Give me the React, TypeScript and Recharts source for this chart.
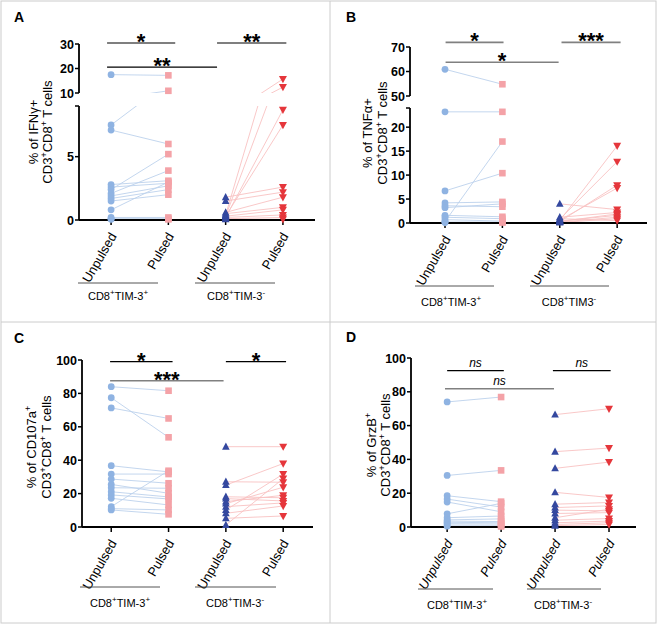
import React from "react";
import { ComposedChart, Line, Scatter, XAxis, YAxis, ReferenceLine } from "recharts";

const W = 658;
const H = 626;
const FONT = '"Liberation Sans", Arial, Helvetica, sans-serif';
const AXIS_W = 40;
const AXIS_H = 60;

const CATEGORIES = ["Unpulsed", "Pulsed", "Unpulsed", "Pulsed"];

// A: IFNγ
const ifnPosUnpulsed = [17.5, 7.5, 7.1, 2.8, 2.6, 2.4, 2.1, 1.9, 1.7, 1.5, 0.8, 0.2, 0.1, 0.05];
const ifnPosPulsed = [17.2, 10.9, 6.0, 3.1, 2.9, 5.2, 3.9, 2.7, 2.4, 2.0, 3.0, 0.2, 0.1, 0.05];
const ifnNegUnpulsed = [0.4, 0.3, 0.2, 0.3, 1.8, 1.5, 0.6, 0.5, 0.3, 0.2, 0.1, 0.05];
const ifnNegPulsed = [15.7, 12.4, 8.7, 7.5, 2.6, 2.2, 1.8, 1.0, 0.8, 0.4, 0.2, 0.05];
const ifnUpperTicks = [10, 20, 30];
const ifnLowerTicks = [0, 5];

// B: TNFα
const tnfPosUnpulsed = [60.9, 23.2, 6.7, 4.2, 3.6, 3.2, 1.6, 1.2, 0.7, 0.3, 0.2, 0.1];
const tnfPosPulsed = [54.8, 23.2, 10.4, 4.4, 3.4, 4.0, 1.3, 0.9, 0.4, 17.0, 0.2, 0.1];
const tnfNegUnpulsed = [0.5, 0.8, 0.3, 0.6, 4.0, 1.2, 0.4, 0.2, 0.1, 0.9, 0.3];
const tnfNegPulsed = [16.1, 12.8, 7.9, 7.3, 2.8, 2.2, 1.6, 1.2, 0.9, 0.5, 1.9];
const tnfUpperTicks = [50, 60, 70];
const tnfLowerTicks = [0, 5, 10, 15, 20];

// C: CD107a
const cdPosUnpulsed = [84.0, 77.4, 71.3, 36.7, 31.7, 28.7, 25.5, 23.5, 21.1, 19.2, 17.2, 12.2, 11.0, 10.2];
const cdPosPulsed = [81.6, 53.7, 65.0, 33.0, 31.7, 26.2, 20.2, 23.2, 18.0, 16.8, 13.2, 33.7, 10.2, 7.6];
const cdNegUnpulsed = [48.1, 27.1, 25.1, 18.1, 17.0, 15.2, 14.0, 12.2, 10.2, 8.2, 5.2, 1.2];
const cdNegPulsed = [48.1, 26.8, 38.0, 17.5, 15.6, 19.0, 23.8, 14.4, 31.7, 12.6, 6.6, 29.0];

// D: GrzB
const grzPosUnpulsed = [74.0, 30.5, 18.5, 16.5, 14.8, 7.8, 5.5, 4.2, 3.5, 2.8, 2.0, 1.2, 0.5];
const grzPosPulsed = [76.9, 33.5, 15.0, 11.8, 9.0, 14.0, 6.5, 4.8, 3.2, 2.5, 1.8, 1.0, 0.3];
const grzNegUnpulsed = [66.5, 44.6, 34.7, 20.5, 13.5, 11.5, 10.0, 8.0, 5.5, 4.0, 2.5, 1.5, 0.8];
const grzNegPulsed = [70.0, 46.7, 38.4, 17.5, 14.5, 12.5, 9.5, 8.5, 10.5, 5.0, 3.5, 2.5, 1.5];

const percentTicks = [0, 20, 40, 60, 80, 100];

const BLUE_LINE = "#bcd1ec";
const PINK_LINE = "#f8c2c2";
const BLUE_DOT = "#8fb3e2";
const PINK_SQ = "#f4a2a7";
const NAVY_TRI = "#34489f";
const RED_TRI = "#e5363b";
const BLACK = "#000";
const GRAY = "#808080";

type Part = { t: string; sup?: boolean };
type Seg = { top: number; bottom: number; domain: [number, number]; ticks: number[]; cap?: boolean };
type Sig = { from: number; to: number; y: number; text: string; color: string };

const CD3CD8: Part[] = [{ t: "CD3" }, { t: "+", sup: true }, { t: "CD8" }, { t: "+", sup: true }, { t: " T cells" }];
const TIMPOS: Part[] = [{ t: "CD8" }, { t: "+", sup: true }, { t: "TIM-3" }, { t: "+", sup: true }];
const TIMNEG: Part[] = [{ t: "CD8" }, { t: "+", sup: true }, { t: "TIM-3" }, { t: "-", sup: true }];
const TIMNEG_B: Part[] = [{ t: "CD8" }, { t: "+", sup: true }, { t: "TIM3" }, { t: "-", sup: true }];

const panels = [
  {
    letter: "A", lx: 14, ly: 22,
    left: 79, right: 315, xDomain: [0.44, 4.56],
    segments: [
      { top: 44, bottom: 93, domain: [10, 30], ticks: ifnUpperTicks },
      { top: 106, bottom: 220, domain: [0, 9], ticks: ifnLowerTicks, cap: true },
    ] as Seg[],
    pos: [ifnPosUnpulsed, ifnPosPulsed], neg: [ifnNegUnpulsed, ifnNegPulsed],
    sigs: [
      { from: 0.93, to: 2.12, y: 30.4, text: "*", color: BLACK },
      { from: 2.85, to: 4.06, y: 30.4, text: "**", color: BLACK },
      { from: 0.93, to: 2.85, y: 20.6, text: "**", color: BLACK },
    ] as Sig[],
    title: { x1: 38, x2: 52, cy: 132, line1: [{ t: "% of IFNγ+" }] as Part[] },
    under: { y: 283, spans: [[78, 158], [195, 275]], labelY: 300, centers: [118, 236], labels: [TIMPOS, TIMNEG] },
    italic: false,
  },
  {
    letter: "B", lx: 346, ly: 22,
    left: 410, right: 647, xDomain: [0.39, 4.52],
    segments: [
      { top: 47, bottom: 96, domain: [50, 70], ticks: tnfUpperTicks },
      { top: 108, bottom: 223, domain: [0, 24], ticks: tnfLowerTicks, cap: true },
    ] as Seg[],
    pos: [tnfPosUnpulsed, tnfPosPulsed], neg: [tnfNegUnpulsed, tnfNegPulsed],
    sigs: [
      { from: 1.01, to: 2.02, y: 71.9, text: "*", color: GRAY },
      { from: 3.03, to: 4.06, y: 71.9, text: "***", color: GRAY },
      { from: 1.01, to: 2.98, y: 63.8, text: "*", color: GRAY },
    ] as Sig[],
    title: { x1: 372, x2: 387, cy: 133, line1: [{ t: "% of TNFα+" }] as Part[] },
    under: { y: 286, spans: [[415, 494], [530, 609]], labelY: 306, centers: [451, 569], labels: [TIMPOS, TIMNEG_B] },
    italic: false,
  },
  {
    letter: "C", lx: 14, ly: 343,
    left: 82, right: 313, xDomain: [0.49, 4.52],
    segments: [{ top: 360, bottom: 527, domain: [0, 100], ticks: percentTicks }] as Seg[],
    pos: [cdPosUnpulsed, cdPosPulsed], neg: [cdNegUnpulsed, cdNegPulsed],
    sigs: [
      { from: 0.98, to: 2.07, y: 99, text: "*", color: BLACK },
      { from: 3.0, to: 4.05, y: 99, text: "*", color: BLACK },
      { from: 0.98, to: 2.96, y: 87.6, text: "***", color: GRAY },
    ] as Sig[],
    title: { x1: 36, x2: 51, cy: 447, line1: [{ t: "% of CD107a" }, { t: "+", sup: true }] as Part[] },
    under: { y: 587, spans: [[80, 160], [195, 276]], labelY: 607, centers: [120, 235], labels: [TIMPOS, TIMNEG] },
    italic: false,
  },
  {
    letter: "D", lx: 346, ly: 342,
    left: 411, right: 636, xDomain: [0.33, 4.5],
    segments: [{ top: 358, bottom: 527, domain: [0, 100], ticks: percentTicks }] as Seg[],
    pos: [grzPosUnpulsed, grzPosPulsed], neg: [grzNegUnpulsed, grzNegPulsed],
    sigs: [
      { from: 1.0, to: 2.05, y: 92.5, text: "ns", color: BLACK },
      { from: 2.96, to: 4.03, y: 92.5, text: "ns", color: BLACK },
      { from: 0.96, to: 2.98, y: 81.8, text: "ns", color: GRAY },
    ] as Sig[],
    title: { x1: 376, x2: 390, cy: 445, line1: [{ t: "% of GrzB" }, { t: "+", sup: true }] as Part[] },
    under: { y: 589, spans: [[418, 493], [527, 601]], labelY: 609, centers: [457, 563], labels: [TIMPOS, TIMNEG] },
    italic: true,
  },
];

function rich(parts: Part[], supSize: number) {
  const out: React.ReactNode[] = [];
  let shifted = false;
  parts.forEach((p, i) => {
    if (p.sup) {
      out.push(<tspan key={i} dy={-5} fontSize={supSize}>{p.t}</tspan>);
      shifted = true;
    } else {
      out.push(<tspan key={i} dy={shifted ? 5 : 0}>{p.t}</tspan>);
      shifted = false;
    }
  });
  return out;
}

function Marker({ cx, cy, kind }: { cx?: number; cy?: number; kind: string }) {
  if (cx == null || cy == null) return <g />;
  if (kind === "circle") return <circle cx={cx} cy={cy} r={3.4} fill={BLUE_DOT} />;
  if (kind === "square") return <rect x={cx - 3.3} y={cy - 3.3} width={6.6} height={6.6} fill={PINK_SQ} />;
  if (kind === "up")
    return <polygon points={`${cx},${cy - 4.2} ${cx - 3.8},${cy + 3} ${cx + 3.8},${cy + 3}`} fill={NAVY_TRI} />;
  return <polygon points={`${cx},${cy + 4.2} ${cx - 4},${cy - 3} ${cx + 4},${cy - 3}`} fill={RED_TRI} />;
}

function CategoryTick(props: any) {
  const { x, y, payload, italic } = props;
  const label = CATEGORIES[Math.round(payload.value) - 1];
  return (
    <text
      transform={`translate(${x + 6},${y + 9}) rotate(-60)`}
      textAnchor="end"
      fontSize={13}
      fill={BLACK}
      fontStyle={italic ? "italic" : "normal"}
    >
      {label}
    </text>
  );
}

// labels only the listed ticks; the break cap at the segment top stays blank
function ValueTick(props: any) {
  const { x, y, payload, labelled } = props;
  if (!labelled.includes(payload.value)) return <g />;
  return (
    <text x={x} y={y} dy={4.5} textAnchor="end" fontSize={12.5} fontWeight={700} fill={BLACK}>
      {payload.value}
    </text>
  );
}

function SigLabel({ viewBox, text }: any) {
  const ns = text === "ns";
  return (
    <text
      x={viewBox.x + viewBox.width / 2}
      y={ns ? viewBox.y - 4 : viewBox.y + 6}
      textAnchor="middle"
      fontSize={ns ? 12 : 22}
      fontWeight={ns ? 400 : 700}
      fontStyle={ns ? "italic" : "normal"}
      fill={BLACK}
    >
      {text}
    </text>
  );
}

function Segment({ panel, seg, isTop, isBottom }: { panel: any; seg: Seg; isTop: boolean; isBottom: boolean }) {
  const inRange = (v: number) => v >= seg.domain[0] && v <= seg.domain[1];
  const [pu, pp] = panel.pos as number[][];
  const [nu, np] = panel.neg as number[][];
  const posLines = pu.map((v, i) => [{ x: 1, y: v }, { x: 2, y: pp[i] }]);
  const negLines = nu.map((v, i) => [{ x: 3, y: v }, { x: 4, y: np[i] }]);
  const pts = (vals: number[], x: number) => vals.filter(inRange).map((y) => ({ x, y }));
  const yTicks = seg.cap ? [...seg.ticks, seg.domain[1]] : seg.ticks;

  return (
    <div style={{ position: "absolute", left: 0, top: 0 }}>
      <ComposedChart
        width={W}
        height={H}
        margin={{
          top: seg.top,
          right: W - panel.right,
          bottom: isBottom ? H - seg.bottom - AXIS_H : H - seg.bottom,
          left: panel.left - AXIS_W,
        }}
      >
        <XAxis
          type="number"
          dataKey="x"
          domain={panel.xDomain}
          ticks={[1, 2, 3, 4]}
          interval={0}
          hide={!isBottom}
          height={AXIS_H}
          tickSize={5}
          stroke={BLACK}
          axisLine={{ stroke: BLACK, strokeWidth: 1.8 }}
          tickLine={{ stroke: BLACK, strokeWidth: 1.5 }}
          tick={(p: any) => <CategoryTick {...p} italic={panel.italic} />}
        />
        <YAxis
          yAxisId="clip"
          type="number"
          domain={seg.domain}
          ticks={yTicks}
          interval={0}
          allowDataOverflow
          width={AXIS_W}
          tickSize={4}
          tickMargin={1}
          stroke={BLACK}
          axisLine={{ stroke: BLACK, strokeWidth: 1.8 }}
          tickLine={{ stroke: BLACK, strokeWidth: 1.5 }}
          tick={(p: any) => <ValueTick {...p} labelled={seg.ticks} />}
        />
        <YAxis yAxisId="free" type="number" domain={seg.domain} hide />
        {posLines.map((d, i) => (
          <Line key={`p${i}`} yAxisId="clip" data={d} dataKey="y" type="linear" stroke={BLUE_LINE}
            strokeWidth={0.9} dot={false} activeDot={false} isAnimationActive={false} />
        ))}
        {negLines.map((d, i) => (
          <Line key={`n${i}`} yAxisId="clip" data={d} dataKey="y" type="linear" stroke={PINK_LINE}
            strokeWidth={0.9} dot={false} activeDot={false} isAnimationActive={false} />
        ))}
        <Scatter yAxisId="free" data={pts(pu, 1)} dataKey="y" isAnimationActive={false}
          shape={(p: any) => <Marker cx={p.cx} cy={p.cy} kind="circle" />} />
        <Scatter yAxisId="free" data={pts(pp, 2)} dataKey="y" isAnimationActive={false}
          shape={(p: any) => <Marker cx={p.cx} cy={p.cy} kind="square" />} />
        <Scatter yAxisId="free" data={pts(nu, 3)} dataKey="y" isAnimationActive={false}
          shape={(p: any) => <Marker cx={p.cx} cy={p.cy} kind="up" />} />
        <Scatter yAxisId="free" data={pts(np, 4)} dataKey="y" isAnimationActive={false}
          shape={(p: any) => <Marker cx={p.cx} cy={p.cy} kind="down" />} />
        {isTop &&
          (panel.sigs as Sig[]).map((s, i) => (
            <ReferenceLine
              key={`s${i}`}
              yAxisId="clip"
              segment={[{ x: s.from, y: s.y }, { x: s.to, y: s.y }]}
              ifOverflow="visible"
              stroke={s.color}
              strokeWidth={s.color === GRAY ? 1.6 : 1.2}
              label={(lp: any) => <SigLabel {...lp} text={s.text} />}
            />
          ))}
      </ComposedChart>
    </div>
  );
}

function Overlay() {
  return (
    <svg width={W} height={H} style={{ position: "absolute", left: 0, top: 0 }}>
      <rect x={1} y={1} width={655} height={622} fill="none" stroke="#cccccc" strokeWidth={1} />
      <line x1={330} y1={1} x2={330} y2={623} stroke="#cccccc" strokeWidth={1} />
      <line x1={1} y1={322} x2={656} y2={322} stroke="#cccccc" strokeWidth={1} />
      {panels.map((p) => (
        <g key={p.letter}>
          <text x={p.lx} y={p.ly} fontSize={14} fontWeight={700} fill={BLACK}>{p.letter}</text>
          <text transform={`translate(${p.title.x1},${p.title.cy}) rotate(-90)`} textAnchor="middle" fontSize={13} fill={BLACK}>
            {rich(p.title.line1, 9)}
          </text>
          <text transform={`translate(${p.title.x2},${p.title.cy}) rotate(-90)`} textAnchor="middle" fontSize={13} fill={BLACK}>
            {rich(CD3CD8, 9)}
          </text>
          {p.under.spans.map(([a, b], i) => (
            <g key={i}>
              <line x1={a} y1={p.under.y} x2={b} y2={p.under.y} stroke="#555555" strokeWidth={1} />
              <text x={p.under.centers[i]} y={p.under.labelY} textAnchor="middle" fontSize={11} fill={BLACK}>
                {rich(p.under.labels[i], 8)}
              </text>
            </g>
          ))}
        </g>
      ))}
    </svg>
  );
}

export default function App() {
  return (
    <div style={{ position: "absolute", left: 0, top: 0, width: W, height: H, background: "#fff", fontFamily: FONT }}>
      {panels.map((p) =>
        p.segments.map((seg, i) => (
          <Segment key={`${p.letter}${i}`} panel={p} seg={seg} isTop={i === 0} isBottom={i === p.segments.length - 1} />
        ))
      )}
      <Overlay />
    </div>
  );
}
